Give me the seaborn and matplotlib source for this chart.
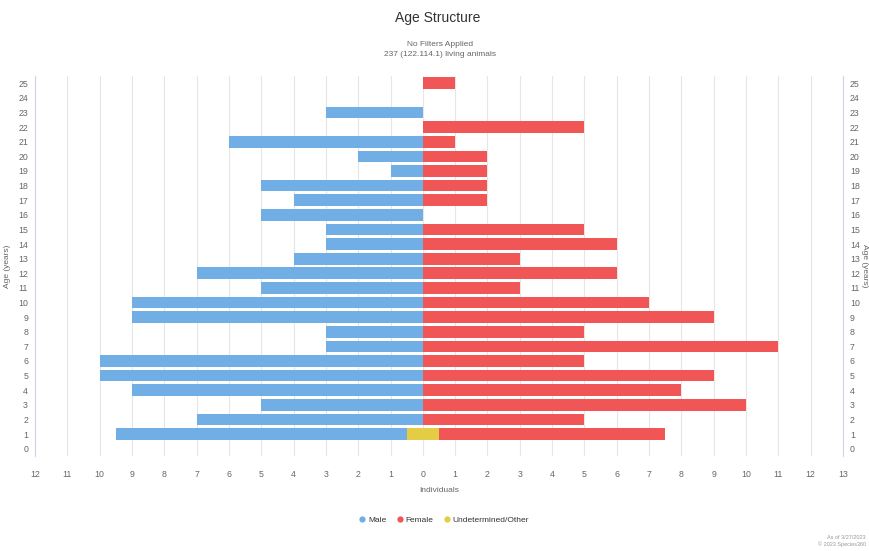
import numpy as np
import pandas as pd
import matplotlib
matplotlib.use("Agg")
import matplotlib.pyplot as plt
import seaborn as sns
from matplotlib.lines import Line2D

# ---- data ----
ages = list(range(26))
male = [0, 9, 7, 5, 9, 10, 10, 3, 3, 9, 9, 5, 7, 4, 3, 3, 5, 4, 5, 1, 2, 6, 0, 3, 0, 0]
female = [0, 7, 5, 10, 8, 9, 5, 11, 5, 9, 7, 3, 6, 3, 6, 5, 0, 2, 2, 2, 2, 1, 5, 0, 0, 1]
undetermined = [0, 1, 0, 0, 0, 0, 0, 0, 0, 0, 0, 0, 0, 0, 0, 0, 0, 0, 0, 0, 0, 0, 0, 0, 0, 0]
x_ticks = list(range(-12, 14))
x_tick_labels = [str(abs(v)) for v in x_ticks]
series_names = ["Male", "Female", "Undetermined/Other"]
title = "Age Structure"
subtitle = "No Filters Applied\n237 (122.114.1) living animals"
x_title = "Individuals"
y_title = "Age (years)"
credit = "As of 3/27/2023\n© 2023 Species360"

colors = {"Male": "#72aee6", "Female": "#f05656", "Undetermined/Other": "#e4cc45"}

sns.set_style("white")
plt.rcParams["font.family"] = ["Liberation Sans", "DejaVu Sans"]

fig = plt.figure(figsize=(8.69, 5.51), dpi=100)
W, H = 869, 551
ax = fig.add_axes([35 / W, 1 - 456 / H, (843 - 35) / W, 380 / H])

und = np.array(undetermined, dtype=float)
df = pd.DataFrame({
    "age": [str(a) for a in ages],
    "male_ext": -(np.array(male, dtype=float) + und / 2),
    "female_ext": np.array(female, dtype=float) + und / 2,
    "und_l": -und / 2,
    "und_r": und / 2,
})
order = [str(a) for a in ages[::-1]]

for col, name in [("male_ext", "Male"), ("female_ext", "Female"),
                  ("und_l", "Undetermined/Other"), ("und_r", "Undetermined/Other")]:
    sns.barplot(data=df, x=col, y="age", order=order, orient="y",
                color=colors[name], width=0.8, ax=ax, errorbar=None,
                saturation=1, linewidth=0)

ax.set_xlim(-12, 13)
ax.set_xticks(x_ticks)
ax.set_xticklabels(x_tick_labels)
ax.set_xlabel("")
ax.set_ylabel("")
ax.grid(axis="x", color="#e6e6e6", lw=0.8)
ax.grid(axis="y", visible=False)
ax.set_axisbelow(True)
for s in ["top", "bottom"]:
    ax.spines[s].set_visible(False)
for s in ["left", "right"]:
    ax.spines[s].set_visible(True)
    ax.spines[s].set_color("#ccd6eb")
    ax.spines[s].set_linewidth(0.8)
ax.tick_params(axis="both", length=0, labelsize=6.3, labelcolor="#666666")
ax.tick_params(axis="x", pad=10)
ax.tick_params(axis="y", labelright=True, pad=5)

fig.text(438 / W, 1 - 18 / H, title, ha="center", va="center", fontsize=10, color="#333333")
fig.text(440 / W, 1 - 50 / H, subtitle, ha="center", va="center", fontsize=6,
         color="#666666", linespacing=1.6)
fig.text(439 / W, 1 - 490 / H, x_title, ha="center", va="center", fontsize=6, color="#666666")
fig.text(8 / W, 1 - 266 / H, y_title, ha="center", va="center", rotation=90,
         fontsize=6, color="#666666")
fig.text(864.5 / W, 1 - 266 / H, y_title, ha="center", va="center", rotation=270,
         fontsize=6, color="#666666")

handles = [Line2D([0], [0], marker="o", ls="", markersize=4.5, markerfacecolor=colors[n],
                  markeredgewidth=0, label=n) for n in series_names]
fig.legend(handles=handles, loc="center", bbox_to_anchor=(443 / W, 1 - 520 / H), ncol=3,
           frameon=False, fontsize=6, handletextpad=0.1, columnspacing=1.0,
           handlelength=1.2, labelcolor="#333333")

fig.text(866 / W, 1 - 541 / H, credit, ha="right", va="center", fontsize=4,
         color="#999999", linespacing=1.3)

fig.savefig("out.png", dpi=100)
